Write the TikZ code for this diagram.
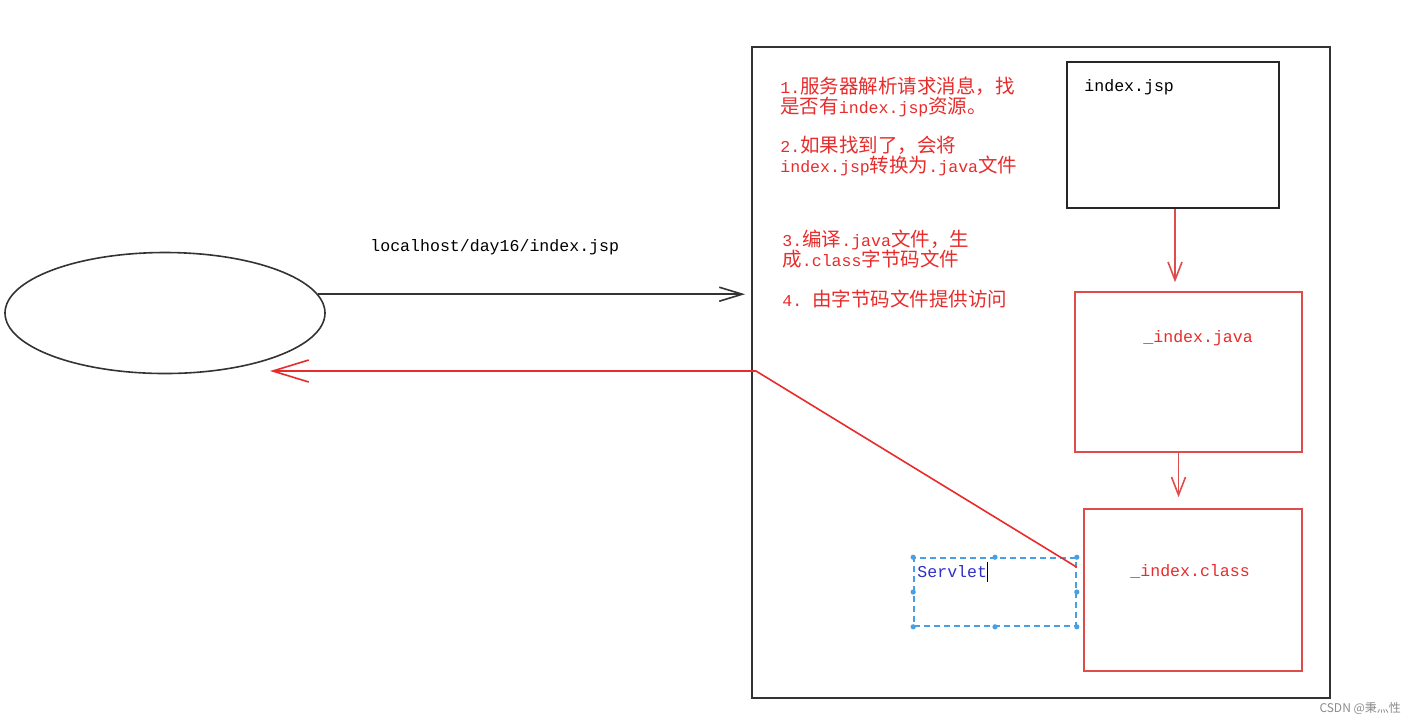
\documentclass[tikz,border=0pt]{standalone}
\usepackage{fontspec}
\usetikzlibrary{arrows.meta,positioning,calc,shapes.geometric}
\newfontfamily\cjk{Noto Sans CJK SC}
\newfontfamily\mono[Scale=0.85]{Liberation Mono}
\definecolor{cRed}{RGB}{232,44,44}
\definecolor{cBox}{RGB}{222,76,76}
\definecolor{cBlue}{RGB}{48,48,200}
\definecolor{cDash}{RGB}{70,160,230}
\definecolor{cMark}{RGB}{140,140,140}
\tikzset{
  srv/.style={draw=black!80, line width=1pt, inner sep=0pt},
  src/.style={draw=black!85, line width=1pt, inner sep=0pt},
  gen/.style={draw=cBox, line width=0.8pt, inner sep=0pt},
  sel/.style={draw=cDash, line width=0.8pt, dash pattern=on 3pt off 2pt, inner sep=0pt},
  lbl/.style={font=\fontsize{9.75pt}{10pt}\mono, inner sep=0pt, anchor=west},
  stp/.style={font=\fontsize{9.75pt}{10pt}\cjk, text=cRed, align=left, inner sep=0pt, anchor=west},
  ar/.style={-{Straight Barb[length=11.5pt, width=7pt]}, draw=black!80, line width=0.8pt},
  arr/.style={-{Straight Barb[length=9pt, width=7pt]}, draw=cBox, line width=0.8pt},
  arb/.style={-{Straight Barb[length=18pt, width=11pt]}, draw=cRed, line width=0.8pt},
}

\begin{document}
\begin{tikzpicture}[x=0.5pt, y=-0.5pt]
\fill[white] (0,0) rectangle (1422,725);
\useasboundingbox (0,0) rectangle (1422,725);

% browser and server
\node[ellipse, draw=black!80, line width=0.8pt, minimum width=160pt, minimum height=60.5pt, inner sep=0pt] (client) at (165,313) {};
\node[srv, minimum width=289pt, minimum height=325.5pt] (server) at (1041,372.5) {};

% files inside the server
\node[src, minimum width=106pt, minimum height=73pt] (jsp) at (1173,135) {};
\node[gen, minimum width=113.5pt, minimum height=80pt] (java) at (1188.5,372) {};
\node[gen, minimum width=109pt, minimum height=81pt] (cls) at (1193,590) {};
\node[sel, minimum width=81pt, minimum height=34pt] (sv) at (995,592) {};
\foreach \a in {north west,north,north east,east,south east,south,south west,west}
  \fill[cDash] (sv.\a) circle (1.3pt);

\node[lbl] (jspt) at (1084,87) {index.jsp};
\node[lbl, text=cRed] (javat) at (1143,338) {\_index.java};
\node[lbl, text=cRed] (clst) at (1130,571) {\_index.class};
\node[lbl, text=cBlue] (svt) at (917,572) {Servlet\textcolor{black}{\rule[-2.5pt]{0.6pt}{10pt}}};
\node[lbl] (url) at (370,247) {localhost/day16/index.jsp};

% steps
\node[stp] (s1) at (780,96.5) {{\mono 1.}服务器解析请求消息，找\\是否有{\mono index.jsp}资源。};
\node[stp] (s2) at (780,156.5) {{\mono 2.}如果找到了，会将\\{\mono index.jsp}转换为{\mono .java}文件};
\node[stp] (s3) at (782,249.5) {{\mono 3.}编译{\mono .java}文件，生\\成{\mono .class}字节码文件};
\node[stp] (s4) at (782,299) {{\mono 4.\ }由字节码文件提供访问};

\coordinate (back) at (270,371);
\coordinate (bend) at ($(back -| server.west)+(2.5pt,0)$);

\draw[ar, shorten >=3pt] (client.7) -- (client.7 -| server.west);
\draw[arr, shorten >=4.5pt] ([xshift=1pt]jsp.south) -- ([xshift=1pt]jsp.south |- java.north);
\draw[arr, shorten >=5.5pt] ([xshift=-5pt]java.south) -- ([xshift=-5pt]java.south |- cls.north);
\draw[arb] ([yshift=-5pt]sv.north east) -- (bend) -- (back);

\node[font=\fontsize{6pt}{7pt}\cjk, text=cMark, anchor=east] (mark) at (1408,708) {CSDN @秉灬性};
\end{tikzpicture}
\end{document}
